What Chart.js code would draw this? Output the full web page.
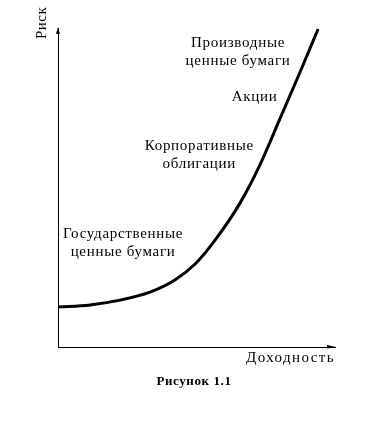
<!DOCTYPE html>
<html>
<head>
<meta charset="utf-8">
<script src="https://cdn.jsdelivr.net/npm/chart.js@4.4.0/dist/chart.umd.min.js"></script>
<style>
  body { margin: 0; background: #fff; }
  #wrap { width: 385px; height: 423px; }
</style>
</head>
<body>
<div id="wrap"><canvas id="risk-chart" width="385" height="423"></canvas></div>
<script>
'use strict';

// доходность (x) и риск (y), условные единицы 0..100
const returns = [0, 11.6, 22.4, 33.2, 42.2, 49.5, 56.7, 65.7, 72.9, 80.1, 87.4, 93.9];
const risk    = [12.5, 13.2, 14.7, 17.2, 21.0, 26.0, 33.5, 45.1, 57.1, 71.5, 86.2, 99.7];

// подписи на графике: текст и точка привязки (центр) в единицах осей
const labelLines = [
  ['Производные', 'ценные бумаги'],
  ['Акции'],
  ['Корпоративные', 'облигации'],
  ['Государственные', 'ценные бумаги']
];
const labelX = [65, 71, 51, 23.5];
const labelY = [92.5, 78.5, 60.3, 32.5];

const xTitle = 'Доходность';
const yTitle = 'Риск';
const caption = 'Рисунок 1.1';

const FONT = '"Liberation Serif", "DejaVu Serif", serif';

// подписи, стрелки осей и подпись рисунка
const annotate = {
  id: 'annotate',
  afterDraw(chart) {
    const {ctx, chartArea: a, scales: {x, y}} = chart;
    ctx.save();
    ctx.fillStyle = '#000';
    ctx.strokeStyle = '#000';

    // стрелки
    ctx.beginPath();
    ctx.moveTo(a.left - 2, a.top + 6);
    ctx.lineTo(a.left, a.top - 1);
    ctx.lineTo(a.left + 2, a.top + 6);
    ctx.closePath();
    ctx.fill();
    ctx.beginPath();
    ctx.moveTo(a.right - 8, a.bottom - 2);
    ctx.lineTo(a.right + 1, a.bottom);
    ctx.lineTo(a.right - 8, a.bottom + 1.5);
    ctx.closePath();
    ctx.fill();

    ctx.font = '15px ' + FONT;
    ctx.letterSpacing = '0.7px';
    ctx.textAlign = 'center';
    ctx.textBaseline = 'middle';
    labelLines.forEach((lines, i) => {
      const cx = x.getPixelForValue(labelX[i]);
      const cy = y.getPixelForValue(labelY[i]);
      lines.forEach((t, j) => {
        ctx.fillText(t, cx, cy + (j - (lines.length - 1) / 2) * 18);
      });
    });

    // подпись оси X
    ctx.letterSpacing = '1.4px';
    ctx.textAlign = 'right';
    ctx.fillText(xTitle, a.right, a.bottom + 11);

    // подпись оси Y (повернута)
    ctx.save();
    ctx.letterSpacing = '0.5px';
    ctx.translate(a.left - 16, a.top + 11);
    ctx.rotate(-Math.PI / 2);
    ctx.textAlign = 'left';
    ctx.fillText(yTitle, 0, 0);
    ctx.restore();

    ctx.font = 'bold 13px ' + FONT;
    ctx.letterSpacing = '0.6px';
    ctx.textAlign = 'center';
    ctx.fillText(caption, 194, 382);
    ctx.restore();
  }
};

const data = returns.map((v, i) => ({x: v, y: risk[i]}));

new Chart(document.querySelector('#risk-chart'), {
  type: 'line',
  data: {
    datasets: [{
      data,
      borderColor: '#000',
      borderWidth: 3,
      pointRadius: 0,
      fill: false,
      cubicInterpolationMode: 'monotone'
    }]
  },
  options: {
    responsive: false,
    animation: false,
    layout: {padding: {left: 58, top: 28, right: 50, bottom: 76}},
    plugins: {legend: {display: false}, tooltip: {enabled: false}},
    scales: {
      x: {
        type: 'linear', min: 0, max: 100,
        grid: {display: false, drawTicks: false},
        ticks: {display: false},
        border: {display: true, color: '#000', width: 1}
      },
      y: {
        type: 'linear', min: 0, max: 100,
        grid: {display: false, drawTicks: false},
        ticks: {display: false},
        border: {display: true, color: '#000', width: 1}
      }
    }
  },
  plugins: [annotate]
});
</script>
</body>
</html>
